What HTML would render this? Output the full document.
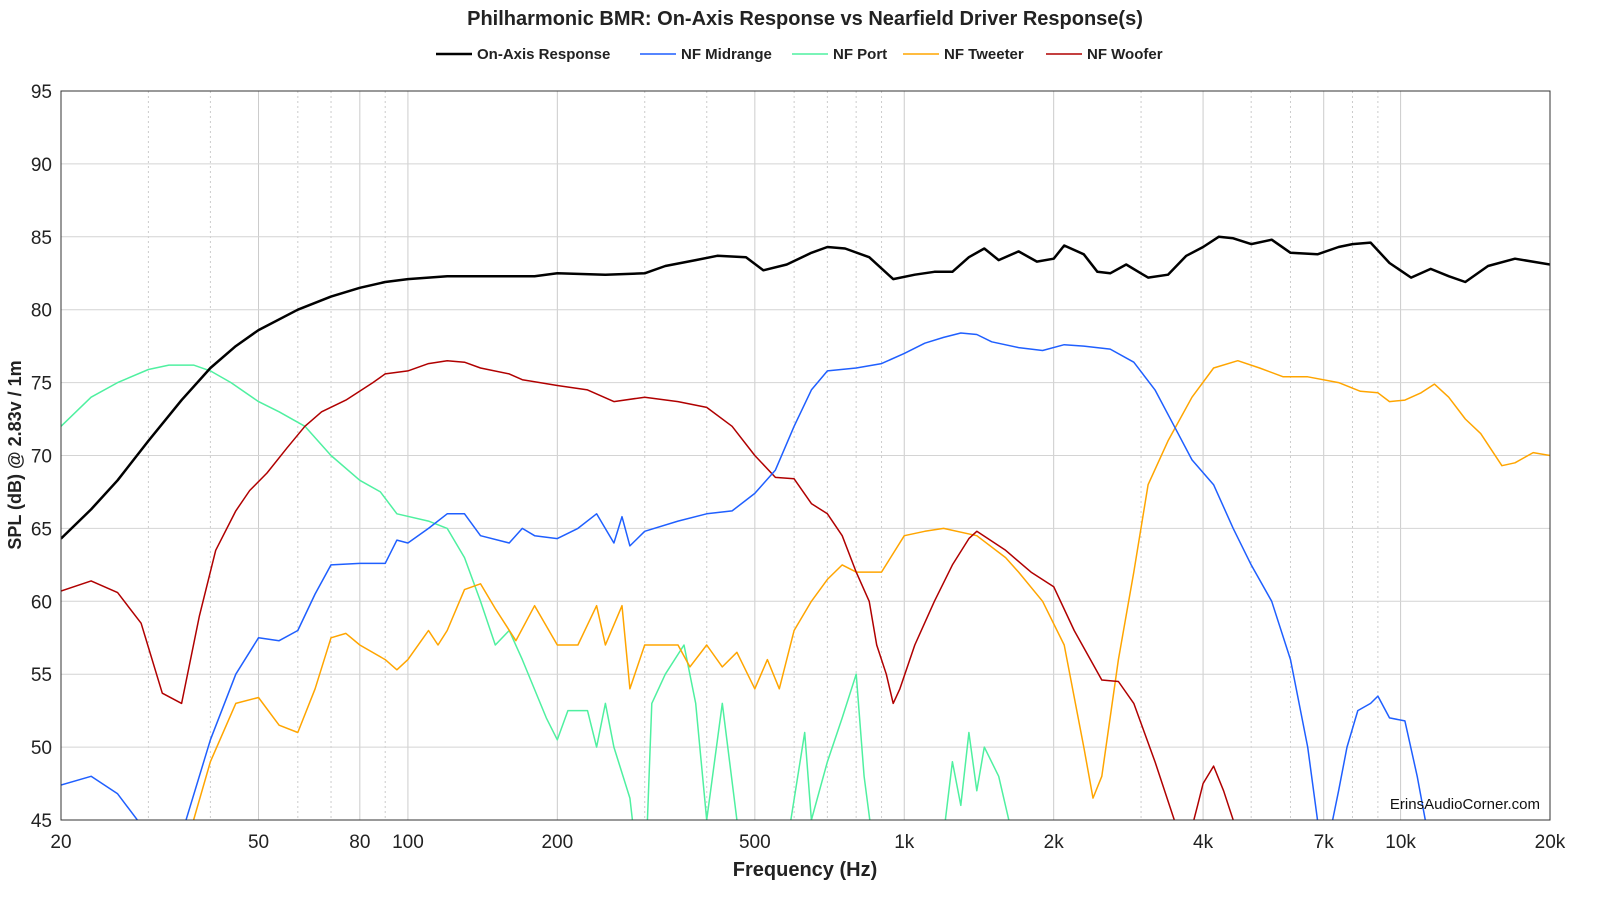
<!DOCTYPE html>
<html><head><meta charset="utf-8"><style>
body{margin:0;background:#fff;font-family:"Liberation Sans",sans-serif}
svg text{font-family:"Liberation Sans",sans-serif}
</style></head><body>
<svg id="chart" width="1600" height="900" viewBox="0 0 1600 900" xmlns="http://www.w3.org/2000/svg">
<rect width="1600" height="900" fill="#fff"/>
<text x="805" y="25" text-anchor="middle" font-size="20" font-weight="bold" fill="#222">Philharmonic BMR: On-Axis Response vs Nearfield Driver Response(s)</text>
<g id="legend" font-size="15" font-weight="bold" fill="#222"></g>
<g id="grid"></g>
<defs><clipPath id="clip"><rect x="61" y="91" width="1489" height="729"/></clipPath></defs>
<g id="series" clip-path="url(#clip)"></g>
<rect x="61" y="91" width="1489" height="729" fill="none" stroke="#333" stroke-width="1"/>
<text x="1540" y="809" text-anchor="end" font-size="15" fill="#111">ErinsAudioCorner.com</text>
<text x="805" y="876" text-anchor="middle" font-size="20" font-weight="bold" fill="#222">Frequency (Hz)</text>
<text transform="translate(21,455) rotate(-90)" text-anchor="middle" font-size="18" font-weight="bold" fill="#222">SPL (dB) @ 2.83v / 1m</text>
<g id="ticks" font-size="19" fill="#222"></g>
</svg>
<script>
const xTickValues=[20,50,80,100,200,500,1000,2000,4000,7000,10000,20000];
const xTickLabels=["20","50","80","100","200","500","1k","2k","4k","7k","10k","20k"];
const yTickValues=[45,50,55,60,65,70,75,80,85,90,95];
const seriesNames=["On-Axis Response","NF Midrange","NF Port","NF Tweeter","NF Woofer"];
const seriesColors=["#000000","#1f5fff","#4ff0a0","#ffa500","#b00000"];
const onAxisFreq=[20,23,26,30,35,40,45,50,60,70,80,90,100,120,150,180,200,250,300,330,380,420,480,520,580,650,700,760,850,950,1050,1150,1250,1350,1450,1550,1700,1850,2000,2100,2300,2450,2600,2800,3100,3400,3700,4000,4300,4600,5000,5500,6000,6800,7500,8000,8700,9500,10500,11500,12500,13500,15000,17000,20000];
const onAxisDb=[64.3,66.3,68.3,71,73.8,76,77.5,78.6,80,80.9,81.5,81.9,82.1,82.3,82.3,82.3,82.5,82.4,82.5,83,83.4,83.7,83.6,82.7,83.1,83.9,84.3,84.2,83.6,82.1,82.4,82.6,82.6,83.6,84.2,83.4,84,83.3,83.5,84.4,83.8,82.6,82.5,83.1,82.2,82.4,83.7,84.3,85,84.9,84.5,84.8,83.9,83.8,84.3,84.5,84.6,83.2,82.2,82.8,82.3,81.9,83,83.5,83.1];
const midFreq=[20,23,26,30,35,40,45,50,55,60,65,70,80,90,95,100,110,120,130,140,160,170,180,200,220,240,260,270,280,300,350,400,450,500,550,600,650,700,800,900,1000,1100,1200,1300,1400,1500,1700,1900,2100,2300,2600,2900,3200,3500,3800,4200,4600,5000,5500,6000,6500,6800,7000,7500,7800,8200,8700,9000,9500,10200,10800,11500];
const midDb=[47.4,48,46.8,44,44,50.5,55,57.5,57.3,58,60.5,62.5,62.6,62.6,64.2,64,65,66,66,64.5,64,65,64.5,64.3,65,66,64,65.8,63.8,64.8,65.5,66,66.2,67.4,69,72,74.5,75.8,76,76.3,77,77.7,78.1,78.4,78.3,77.8,77.4,77.2,77.6,77.5,77.3,76.4,74.5,72,69.7,68,65,62.5,60,56,50,45,42,47,50,52.5,53,53.5,52,51.8,48,43];
const portFreq=[20,23,26,30,33,37,40,44,50,55,62,70,80,88,95,110,120,130,140,150,160,170,190,200,210,230,240,250,260,280,290,300,310,330,360,380,400,430,460,500,560,630,650,700,750,800,830,860,950,1100,1200,1250,1300,1350,1400,1450,1550,1650,1800];
const portDb=[72,74,75,75.9,76.2,76.2,75.8,75,73.7,73,72,70,68.3,67.5,66,65.5,65,63,60,57,58,56,52,50.5,52.5,52.5,50,53,50,46.5,42,40,53,55,57,53,45,53,45,43,40,51,45,49,52,55,48,44,40,40,44,49,46,51,47,50,48,44,40];
const tweFreq=[35,37,40,45,50,55,60,65,70,75,80,90,95,100,110,115,120,130,140,150,165,180,200,220,240,250,270,280,300,350,370,400,430,460,500,530,560,600,650,700,750,800,900,1000,1100,1200,1400,1600,1700,1900,2100,2300,2400,2500,2700,2900,3100,3400,3800,4200,4700,5200,5800,6500,7500,8300,9000,9500,10200,11000,11700,12500,13500,14500,16000,17000,18500,20000];
const tweDb=[42,45,49,53,53.4,51.5,51,54,57.5,57.8,57,56,55.3,56,58,57,58,60.8,61.2,59.5,57.3,59.7,57,57,59.7,57,59.7,54,57,57,55.5,57,55.5,56.5,54,56,54,58,60,61.5,62.5,62,62,64.5,64.8,65,64.5,63,62,60,57,50,46.5,48,56,62,68,71,74,76,76.5,76,75.4,75.4,75,74.4,74.3,73.7,73.8,74.3,74.9,74,72.5,71.5,69.3,69.5,70.2,70];
const wooFreq=[20,23,26,29,32,35,38,41,45,48,52,57,62,67,75,85,90,100,110,120,130,140,160,170,200,230,260,300,350,400,450,500,550,600,650,700,750,800,850,880,920,950,980,1050,1150,1250,1350,1400,1600,1800,2000,2200,2500,2700,2900,3200,3500,3800];
const wooDb=[60.7,61.4,60.6,58.5,53.7,53,59,63.5,66.2,67.6,68.8,70.5,72,73,73.8,75,75.6,75.8,76.3,76.5,76.4,76,75.6,75.2,74.8,74.5,73.7,74,73.7,73.3,72,70,68.5,68.4,66.7,66,64.5,62,60,57,55,53,54,57,60,62.5,64.3,64.8,63.5,62,61,58,54.6,54.5,53,49,45,43];
const woo2Freq=[3700,3900,4000,4200,4400,4600,4800];
const woo2Db=[43,46,47.5,48.7,47,45,43];

const NS="http://www.w3.org/2000/svg";
const X0=61,X1=1550,Y0=91,Y1=820;
function xs(f){return X0+(Math.log10(f)-Math.log10(20))/3*(X1-X0);}
function ys(d){return Y1-(d-45)/50*(Y1-Y0);}
function mk(tag,attrs,parent){const e=document.createElementNS(NS,tag);for(const k in attrs)e.setAttribute(k,attrs[k]);parent.appendChild(e);return e;}
const grid=document.getElementById('grid');
// minor log grid
for(let dec=10;dec<=10000;dec*=10){for(let m=2;m<=9;m++){const f=m*dec;if(f<20||f>20000)continue;
 const major=xTickValues.indexOf(f)>=0;
 const l=mk('line',{x1:xs(f),x2:xs(f),y1:Y0,y2:Y1,stroke:'#ccc','stroke-width':1,'stroke-dasharray':major?'':'2,3'},grid);
 
 }}
[100,1000,10000].forEach(f=>{const l=mk('line',{x1:xs(f),x2:xs(f),y1:Y0,y2:Y1,stroke:'#ccc','stroke-width':1},grid);
 
 });
const ticks=document.getElementById('ticks');
yTickValues.forEach(v=>{const l=mk('line',{x1:X0,x2:X1,y1:ys(v),y2:ys(v),stroke:'#d4d4d4','stroke-width':1},grid);
 
 
 const t=mk('text',{x:52,y:ys(v)+7,'text-anchor':'end'},ticks);t.textContent=v;
 
 });
xTickValues.forEach((v,i)=>{const t=mk('text',{x:xs(v),y:848,'text-anchor':'middle'},ticks);t.textContent=xTickLabels[i];
 
 });
const ser=document.getElementById('series');
function line(fr,db,color,w,name){const d=fr.map((f,i)=>(i?'L':'M')+xs(f).toFixed(1)+','+ys(db[i]).toFixed(1)).join('');
 const p=mk('path',{d:d,fill:'none',stroke:color,'stroke-width':w,'stroke-linejoin':'round'},ser);
 
 }
line(portFreq,portDb,seriesColors[2],1.5,'nf-port-line');
line(tweFreq,tweDb,seriesColors[3],1.5,'nf-tweeter-line');
line(wooFreq,wooDb,seriesColors[4],1.5,'nf-woofer-line');
line(woo2Freq,woo2Db,seriesColors[4],1.5,'nf-woofer-line-high');
line(midFreq,midDb,seriesColors[1],1.5,'nf-midrange-line');
line(onAxisFreq,onAxisDb,seriesColors[0],2.5,'on-axis-line');
const lg=document.getElementById('legend');
const lx=[436,640,792,903,1046];
seriesNames.forEach((n,i)=>{const g=mk('g',{},lg);
 
 
 mk('line',{x1:lx[i],x2:lx[i]+36,y1:54,y2:54,stroke:seriesColors[i],'stroke-width':i?1.5:2.5},g);
 const t=mk('text',{x:lx[i]+41,y:59},g);t.textContent=n;});
</script>
</body></html>
